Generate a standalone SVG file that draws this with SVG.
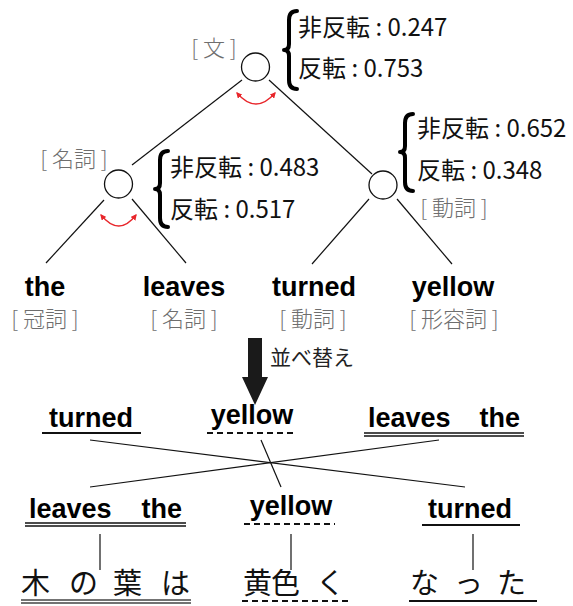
<svg xmlns="http://www.w3.org/2000/svg" width="573" height="606" viewBox="0 0 573 606">
<defs>
<marker id="rh" viewBox="0 0 10 10" refX="8" refY="5" markerWidth="6" markerHeight="6" orient="auto-start-reverse" markerUnits="userSpaceOnUse">
<path d="M0,0 L10,5 L0,10 Z" fill="#e8262b"/>
</marker>
<style>
.ln{stroke:#111;stroke-width:1.2;fill:none}
.nd{fill:#fff;stroke:#111;stroke-width:1.3}
.gray{font-family:"Noto Sans CJK JP",sans-serif;font-size:22px;fill:#6e6e6e;text-anchor:middle;font-weight:300}
.prob{font-family:"Noto Sans CJK JP",sans-serif;font-size:24px;fill:#111}
.br{fill:none;stroke:#000;stroke-width:4;stroke-linecap:round;stroke-linejoin:round}
.en{font-family:"Liberation Sans",Arial,sans-serif;font-weight:bold;font-size:27px;fill:#000}
.mid{text-anchor:middle}
.jp{font-family:"Noto Sans CJK JP",sans-serif;font-size:29px;fill:#111}
.ul{stroke:#111;stroke-width:2;fill:none}
.dul{stroke:#111;stroke-width:1.3;fill:none}
.dash{stroke:#111;stroke-width:2;fill:none;stroke-dasharray:6 4}
.red{stroke:#e8262b;stroke-width:1.3;fill:none}
</style>
</defs>
<rect width="573" height="606" fill="#fff"/>

<g id="connectors">
<line class="ln" x1="242" y1="80" x2="132" y2="165"/>
<line class="ln" x1="269" y1="80" x2="372" y2="174"/>
<line class="ln" x1="104" y1="200" x2="46" y2="263"/>
<line class="ln" x1="132" y1="199" x2="186" y2="263"/>
<line class="ln" x1="369" y1="199" x2="312" y2="264"/>
<line class="ln" x1="397" y1="199" x2="452" y2="264"/>
<line class="ln" x1="90" y1="440" x2="465" y2="487"/>
<line class="ln" x1="439" y1="440" x2="90" y2="487"/>
<line class="ln" x1="261" y1="440" x2="281" y2="487"/>
<line class="ln" x1="100" y1="534" x2="100" y2="570"/>
<line class="ln" x1="291" y1="534" x2="291" y2="570"/>
<line class="ln" x1="473" y1="534" x2="473" y2="570"/>
<path class="red" d="M237,93 Q256,115 275,93" marker-start="url(#rh)" marker-end="url(#rh)"/>
<path class="red" d="M101,215 Q119,237 136,215" marker-start="url(#rh)" marker-end="url(#rh)"/>
</g>

<g id="node-root">
<circle class="nd" cx="255.5" cy="67" r="14"/>
<text class="gray" x="214" y="56">[ 文 ]</text>
<path class="br" d="M297,11 Q289,11 289,20 L289,44 Q289,50 284,50 Q289,50 289,56 L289,80 Q289,89 297,89"/>
<text class="prob" x="298" y="36">非反転 : 0.247</text>
<text class="prob" x="298" y="77">反転 : 0.753</text>
</g>

<g id="node-np">
<circle class="nd" cx="118.5" cy="184" r="14"/>
<text class="gray" x="74" y="167">[ 名詞 ]</text>
<path class="br" d="M168,151 Q160,151 160,160 L160,183 Q160,189 155,189 Q160,189 160,195 L160,218 Q160,227 168,227"/>
<text class="prob" x="170" y="176">非反転 : 0.483</text>
<text class="prob" x="170" y="218">反転 : 0.517</text>
</g>

<g id="node-vp">
<circle class="nd" cx="383" cy="185" r="14"/>
<text class="gray" x="454" y="216">[ 動詞 ]</text>
<path class="br" d="M413,114 Q405,114 405,123 L405,146 Q405,152 400,152 Q405,152 405,158 L405,182 Q405,191 413,191"/>
<text class="prob" x="417" y="137">非反転 : 0.652</text>
<text class="prob" x="417" y="179">反転 : 0.348</text>
</g>

<g id="leaf-the">
<text class="en mid" x="45" y="296">the</text>
<text class="gray" x="45" y="327">[ 冠詞 ]</text>
</g>
<g id="leaf-leaves">
<text class="en mid" x="184" y="296">leaves</text>
<text class="gray" x="184" y="327">[ 名詞 ]</text>
</g>
<g id="leaf-turned">
<text class="en mid" x="314" y="296">turned</text>
<text class="gray" x="313" y="327">[ 動詞 ]</text>
</g>
<g id="leaf-yellow">
<text class="en mid" x="453" y="296">yellow</text>
<text class="gray" x="454" y="327">[ 形容詞 ]</text>
</g>

<g id="reorder-arrow">
<path d="M248,338 H262 V377 H268 L255,405 L242,377 H248 Z" fill="#1a1a1a"/>
<text x="270" y="365" font-family="'Noto Sans CJK JP',sans-serif" font-size="21" fill="#222">並べ替え</text>
</g>

<g id="r1-turned">
<text class="en mid" x="91" y="427">turned</text>
<line class="ul" x1="42" y1="433" x2="141" y2="433"/>
</g>
<g id="r1-yellow">
<text class="en mid" x="252" y="424">yellow</text>
<line class="dash" x1="207" y1="433" x2="296" y2="433"/>
</g>
<g id="r1-leaves-the">
<text class="en" y="427"><tspan x="368">leaves</tspan><tspan x="520" text-anchor="end">the</tspan></text>
<line class="dul" x1="364" y1="433" x2="524" y2="433"/>
<line class="dul" x1="364" y1="436" x2="524" y2="436"/>
</g>

<g id="r2-leaves-the">
<text class="en" y="518"><tspan x="29">leaves</tspan><tspan x="182" text-anchor="end">the</tspan></text>
<line class="dul" x1="25" y1="523" x2="186" y2="523"/>
<line class="dul" x1="25" y1="526" x2="186" y2="526"/>
</g>
<g id="r2-yellow">
<text class="en mid" x="291" y="515">yellow</text>
<line class="dash" x1="244" y1="524" x2="335" y2="524"/>
</g>
<g id="r2-turned">
<text class="en mid" x="470" y="518">turned</text>
<line class="ul" x1="422" y1="525" x2="520" y2="525"/>
</g>

<g id="jp-konoha">
<text class="jp" x="21 50 69 98 113 142 161" y="594">木 の 葉 は</text>
<line stroke="#444" stroke-width="1.5" x1="21" y1="600" x2="191" y2="600"/>
<line stroke="#444" stroke-width="1.5" x1="21" y1="603" x2="191" y2="603"/>
</g>
<g id="jp-kiiroku">
<text class="jp" x="243 271 300 316" y="594">黄色 く</text>
<line class="dash" x1="242" y1="601" x2="351" y2="601"/>
</g>
<g id="jp-natta">
<text class="jp" x="410 439 454 483 497" y="594">な っ た</text>
<line class="ul" x1="409" y1="601" x2="537" y2="601"/>
</g>
</svg>
